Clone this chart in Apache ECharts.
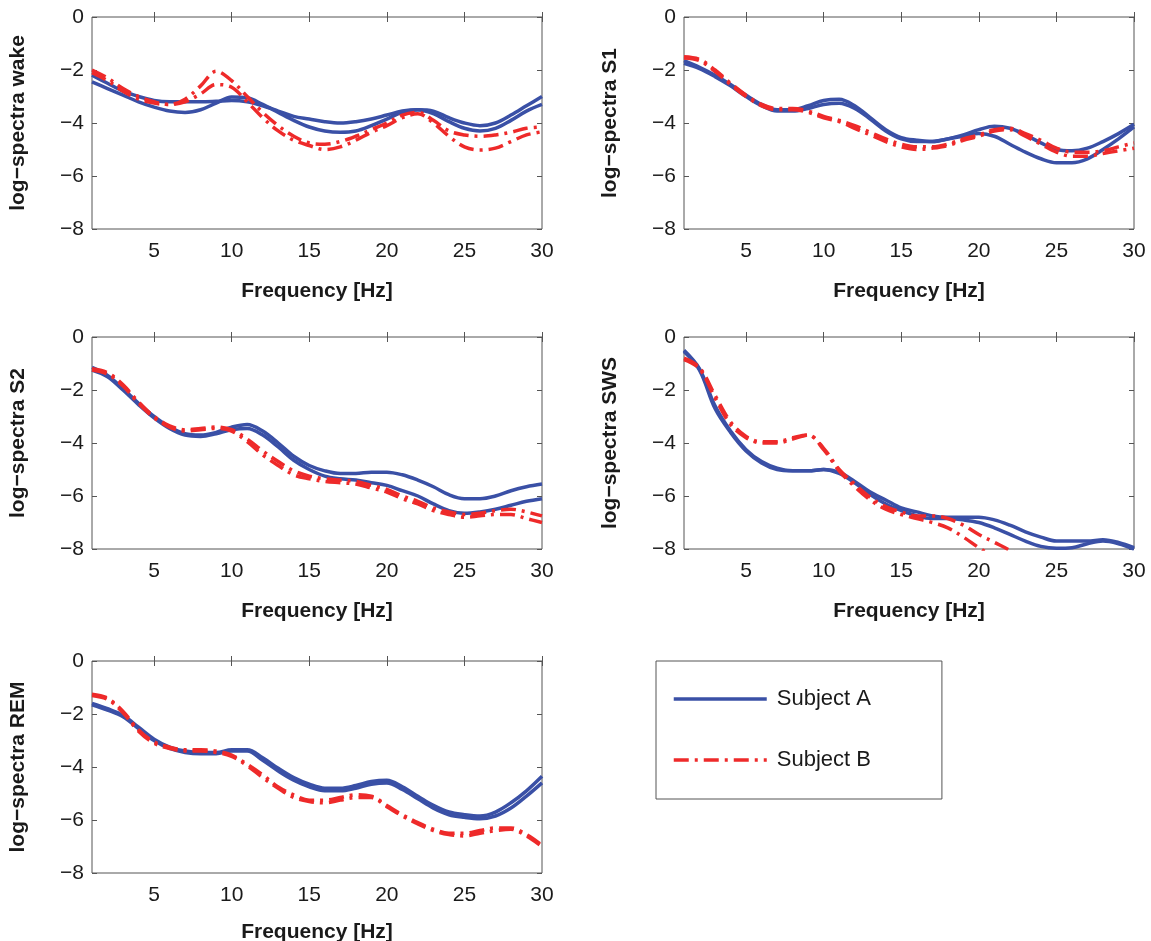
<!DOCTYPE html>
<html>

<head>
  <meta charset="UTF-8">
  <title>log-spectra per sleep stage</title>
  <script src="https://cdn.jsdelivr.net/npm/echarts@6/dist/echarts.min.js"></script>
  <style>
    html,
    body {
      margin: 0;
      padding: 0;
      background: #fff;
    }

    #chart {
      width: 1151px;
      height: 941px;
    }
  </style>
</head>

<body>
  <div id="chart"></div>
  <script>
    // frequency grid (Hz)
    const freq = [1, 2, 3, 4, 5, 6, 7, 8, 9, 10, 11, 12, 13, 14, 15, 16, 17, 18, 19, 20, 21, 22, 23, 24, 25, 26, 27, 28, 29, 30];
    const freqTicks = [5, 10, 15, 20, 25, 30];

    // wake
    const wakeA1 = [-2.45, -2.7, -2.95, -3.2, -3.4, -3.55, -3.6, -3.5, -3.25, -3.02, -3.05, -3.3, -3.6, -3.9, -4.15, -4.3, -4.35, -4.3, -4.1, -3.85, -3.6, -3.5, -3.65, -3.95, -4.2, -4.3, -4.2, -3.9, -3.55, -3.3];
    const wakeA2 = [-2.2, -2.5, -2.8, -3.0, -3.15, -3.2, -3.2, -3.2, -3.18, -3.15, -3.2, -3.35, -3.55, -3.75, -3.85, -3.95, -4.0, -3.95, -3.85, -3.7, -3.55, -3.5, -3.55, -3.8, -4.0, -4.1, -4.0, -3.7, -3.35, -3.0];
    const wakeB1 = [-2.0, -2.3, -2.7, -3.0, -3.2, -3.3, -3.1, -2.6, -2.05, -2.4, -3.0, -3.6, -4.1, -4.5, -4.75, -4.8, -4.7, -4.5, -4.25, -4.0, -3.7, -3.6, -3.9, -4.3, -4.45, -4.5, -4.45, -4.35, -4.2, -4.15];
    const wakeB2 = [-2.1, -2.4, -2.8, -3.1, -3.25, -3.3, -3.2, -2.9, -2.55, -2.65, -3.2, -3.8, -4.3, -4.65, -4.85, -5.0, -4.9, -4.65, -4.35, -4.1, -3.8, -3.65, -4.0, -4.5, -4.9, -5.02, -4.95, -4.7, -4.45, -4.33];

    // S1
    const s1A1 = [-1.65, -1.9, -2.2, -2.55, -2.95, -3.3, -3.5, -3.5, -3.35, -3.15, -3.1, -3.35, -3.8, -4.25, -4.55, -4.65, -4.7, -4.6, -4.45, -4.25, -4.12, -4.2, -4.45, -4.75, -5.0, -5.05, -4.95, -4.7, -4.4, -4.05];
    const s1A2 = [-1.75, -1.95, -2.25, -2.6, -3.0, -3.35, -3.55, -3.55, -3.45, -3.3, -3.25, -3.45, -3.85, -4.3, -4.6, -4.7, -4.7, -4.6, -4.5, -4.4, -4.5, -4.8, -5.1, -5.35, -5.5, -5.5, -5.35, -5.0, -4.6, -4.15];
    const s1B1 = [-1.5, -1.6, -2.0, -2.5, -2.95, -3.3, -3.45, -3.45, -3.55, -3.75, -3.9, -4.1, -4.35, -4.6, -4.8, -4.9, -4.9, -4.8, -4.6, -4.45, -4.25, -4.2, -4.4, -4.65, -4.95, -5.1, -5.1, -5.05, -4.9, -4.75];
    const s1B2 = [-1.55, -1.65, -2.05, -2.55, -3.0, -3.35, -3.5, -3.5, -3.6, -3.8, -3.95, -4.2, -4.45, -4.7, -4.9, -5.0, -4.95, -4.85, -4.65, -4.5, -4.3, -4.25, -4.5, -4.8, -5.1, -5.25, -5.25, -5.15, -5.05, -4.95];

    // S2
    const s2A1 = [-1.15, -1.45, -1.95, -2.5, -3.0, -3.4, -3.65, -3.7, -3.6, -3.4, -3.3, -3.55, -4.0, -4.5, -4.85, -5.05, -5.15, -5.15, -5.1, -5.1, -5.2, -5.4, -5.65, -5.95, -6.1, -6.1, -6.0, -5.8, -5.65, -5.55];
    const s2A2 = [-1.25, -1.5, -2.0, -2.55, -3.05, -3.45, -3.7, -3.75, -3.65, -3.5, -3.45, -3.7, -4.15, -4.65, -5.0, -5.25, -5.35, -5.4, -5.5, -5.6, -5.8, -6.0, -6.3, -6.55, -6.65, -6.6, -6.5, -6.35, -6.2, -6.1];
    const s2B1 = [-1.2, -1.35, -1.8, -2.45, -3.0, -3.35, -3.5, -3.45, -3.4, -3.5, -3.85, -4.3, -4.7, -5.05, -5.25, -5.35, -5.4, -5.45, -5.6, -5.75, -6.0, -6.2, -6.45, -6.6, -6.7, -6.65, -6.55, -6.5, -6.6, -6.75];
    const s2B2 = [-1.25, -1.4, -1.85, -2.5, -3.05, -3.4, -3.55, -3.5, -3.45, -3.55, -3.95, -4.45, -4.85, -5.2, -5.35, -5.45, -5.5, -5.55, -5.7, -5.85, -6.1, -6.3, -6.55, -6.7, -6.8, -6.75, -6.7, -6.7, -6.85, -7.0];

    // SWS
    const swsA1 = [-0.5, -1.2, -2.6, -3.55, -4.25, -4.7, -4.95, -5.05, -5.05, -5.0, -5.1, -5.45, -5.85, -6.15, -6.45, -6.6, -6.75, -6.8, -6.8, -6.8, -6.9, -7.1, -7.35, -7.55, -7.7, -7.7, -7.7, -7.65, -7.75, -7.95];
    const swsA2 = [-0.55, -1.25, -2.7, -3.6, -4.3, -4.75, -5.0, -5.05, -5.05, -5.0, -5.15, -5.5, -5.95, -6.3, -6.55, -6.75, -6.85, -6.85, -6.9, -7.0, -7.2, -7.45, -7.7, -7.9, -7.97, -7.95, -7.8, -7.7, -7.8, -8.0];
    const swsB1 = [-0.8, -1.15, -2.2, -3.2, -3.75, -3.95, -3.95, -3.8, -3.7, -4.2, -5.0, -5.55, -6.05, -6.4, -6.6, -6.75, -6.75, -6.85, -7.1, -7.45, -7.75, -8.05, -8.4, null, null, null, null, null, null, null];
    const swsB2 = [-0.85, -1.2, -2.3, -3.3, -3.8, -4.0, -4.0, -3.85, -3.7, -4.25, -5.05, -5.65, -6.15, -6.5, -6.7, -6.85, -7.0, -7.2, -7.55, -7.95, -8.3, -8.6, null, null, null, null, null, null, null, null];

    // REM
    const remA1 = [-1.6, -1.8, -2.05, -2.5, -2.95, -3.25, -3.4, -3.45, -3.45, -3.35, -3.35, -3.65, -4.05, -4.4, -4.65, -4.8, -4.8, -4.7, -4.55, -4.5, -4.75, -5.1, -5.45, -5.7, -5.8, -5.85, -5.7, -5.35, -4.9, -4.35];
    const remA2 = [-1.65, -1.85, -2.1, -2.55, -3.0, -3.3, -3.45, -3.5, -3.5, -3.4, -3.4, -3.75, -4.15, -4.5, -4.75, -4.9, -4.9, -4.8, -4.65, -4.6, -4.85, -5.2, -5.55, -5.8, -5.9, -5.95, -5.85, -5.55, -5.1, -4.6];
    const remB1 = [-1.25, -1.4, -1.9, -2.6, -3.05, -3.25, -3.35, -3.35, -3.4, -3.55, -3.9, -4.3, -4.75, -5.05, -5.25, -5.25, -5.15, -5.05, -5.1, -5.45, -5.8, -6.1, -6.35, -6.5, -6.5, -6.4, -6.3, -6.3, -6.55, -6.95];
    const remB2 = [-1.3, -1.45, -1.95, -2.65, -3.1, -3.3, -3.4, -3.4, -3.45, -3.6, -3.95, -4.4, -4.8, -5.15, -5.3, -5.35, -5.25, -5.15, -5.15, -5.5, -5.85, -6.15, -6.4, -6.55, -6.6, -6.5, -6.4, -6.35, -6.6, -7.0];

    const panels = [
      { label: 'log\u2212spectra wake', A: [wakeA1, wakeA2], B: [wakeB1, wakeB2] },
      { label: 'log\u2212spectra S1', A: [s1A1, s1A2], B: [s1B1, s1B2] },
      { label: 'log\u2212spectra S2', A: [s2A1, s2A2], B: [s2B1, s2B2] },
      { label: 'log\u2212spectra SWS', A: [swsA1, swsA2], B: [swsB1, swsB2] },
      { label: 'log\u2212spectra REM', A: [remA1, remA2], B: [remB1, remB2] }
    ];

    // left, top, gap of the x-axis title
    const boxes = [[92, 17, 52], [684, 17, 52], [92, 337, 52], [684, 337, 52], [92, 661, 49]];
    const FONT = '"Liberation Sans", Arial, sans-serif';
    const FRAME = '#555';
    const BLUE = '#3a50a6';
    const RED = '#ee2a2a';
    const DASHDOT = [15, 6, 3, 6];

    const pairs = v => freq.map((f, i) => [f, v[i]]);
    const minus = v => String(v).replace('-', '\u2212');

    const grid = [], xAxis = [], yAxis = [], series = [];

    panels.forEach((p, i) => {
      grid.push({
        left: boxes[i][0], top: boxes[i][1], width: 450, height: 212,
        outerBoundsMode: 'none',
        show: true, borderColor: FRAME, borderWidth: 1
      });

      const tick = { show: true, inside: true, length: 5, lineStyle: { color: FRAME } };

      // bottom + mirrored top axis
      xAxis.push({
        gridIndex: i, type: 'value', min: 1, max: 30, position: 'bottom',
        axisLine: { show: false }, splitLine: { show: false },
        axisTick: Object.assign({ customValues: freqTicks }, tick),
        axisLabel: { customValues: freqTicks, fontSize: 21, color: '#1a1a1a', fontFamily: FONT, margin: 12 },
        name: 'Frequency [Hz]', nameLocation: 'middle', nameGap: boxes[i][2],
        nameTextStyle: { fontSize: 21, fontWeight: 'bold', color: '#1a1a1a', fontFamily: FONT }
      });
      xAxis.push({
        gridIndex: i, type: 'value', min: 1, max: 30, position: 'top',
        axisLine: { show: false }, splitLine: { show: false },
        axisTick: Object.assign({ customValues: freqTicks }, tick),
        axisLabel: { show: false }
      });

      // left + mirrored right axis
      yAxis.push({
        gridIndex: i, type: 'value', min: -8, max: 0, interval: 2, position: 'left',
        axisLine: { show: false }, splitLine: { show: false }, axisTick: tick,
        axisLabel: { formatter: minus, fontSize: 21, color: '#1a1a1a', fontFamily: FONT, margin: 8 },
        name: p.label, nameLocation: 'middle', nameGap: 63,
        nameTextStyle: { fontSize: 21, fontWeight: 'bold', color: '#1a1a1a', fontFamily: FONT }
      });
      yAxis.push({
        gridIndex: i, type: 'value', min: -8, max: 0, interval: 2, position: 'right',
        axisLine: { show: false }, splitLine: { show: false }, axisTick: tick,
        axisLabel: { show: false }
      });

      p.A.forEach(v => series.push({
        name: 'Subject A', type: 'line', xAxisIndex: i * 2, yAxisIndex: i * 2,
        data: pairs(v), smooth: 0.35, symbol: 'none',
        lineStyle: { color: BLUE, width: 3.5 }, itemStyle: { color: BLUE }
      }));
      p.B.forEach(v => series.push({
        name: 'Subject B', type: 'line', xAxisIndex: i * 2, yAxisIndex: i * 2,
        data: pairs(v), smooth: 0.35, symbol: 'none',
        lineStyle: { color: RED, width: 3.5, type: DASHDOT }, itemStyle: { color: RED }
      }));
    });

    const chart = echarts.init(document.getElementById('chart'));
    chart.setOption({
      animation: false,
      backgroundColor: '#fff',
      grid, xAxis, yAxis, series,
      legend: {
        data: ['Subject A', 'Subject B'],
        orient: 'vertical', left: 656, top: 661,
        itemWidth: 93, itemHeight: 20, itemGap: 39,
        padding: [27, 71, 28, 16],
        borderColor: FRAME, borderWidth: 1,
        itemStyle: { opacity: 0 },
        lineStyle: { width: 3.5 },
        textStyle: { fontSize: 22, color: '#1a1a1a', fontFamily: FONT, padding: [0, 0, 0, 5] }
      }
    });
  </script>
</body>

</html>
